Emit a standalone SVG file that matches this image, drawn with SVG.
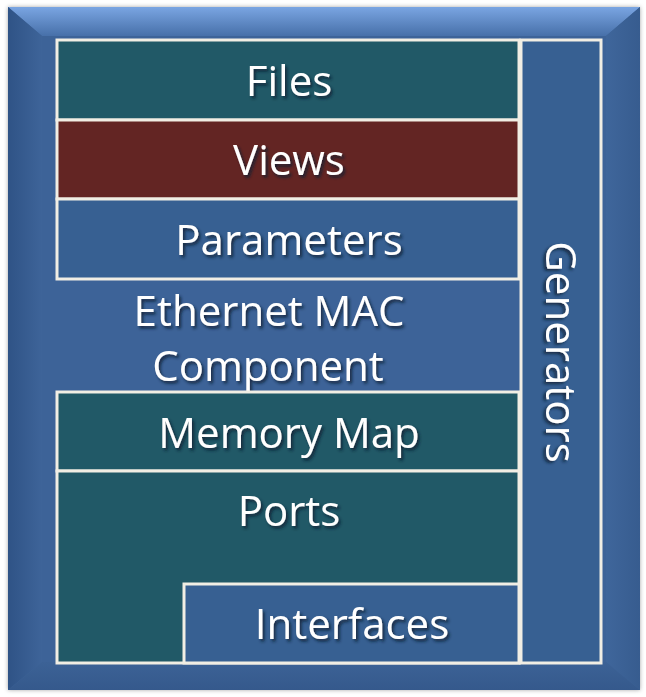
<svg xmlns="http://www.w3.org/2000/svg" width="646" height="697" viewBox="0 0 646 697">
  <defs>
    <linearGradient id="bevelTop" x1="0" y1="0" x2="0" y2="1">
      <stop offset="0" stop-color="#7aa5e2"/>
      <stop offset="1" stop-color="#4770a9"/>
    </linearGradient>
    <linearGradient id="bevelLeft" x1="0" y1="0" x2="1" y2="0">
      <stop offset="0" stop-color="#2f5386"/>
      <stop offset="1" stop-color="#3e6499"/>
    </linearGradient>
    <linearGradient id="bevelRight" x1="0" y1="0" x2="1" y2="0">
      <stop offset="0" stop-color="#3f669b"/>
      <stop offset="1" stop-color="#375c8f"/>
    </linearGradient>
    <linearGradient id="bevelBottom" x1="0" y1="0" x2="0" y2="1">
      <stop offset="0" stop-color="#3c6296"/>
      <stop offset="1" stop-color="#35598c"/>
    </linearGradient>
    <filter id="frameShadow" x="-5%" y="-5%" width="110%" height="110%">
      <feDropShadow dx="0" dy="0" stdDeviation="2" flood-color="#000" flood-opacity="0.35"/>
    </filter>
    <filter id="textShadow" x="-10%" y="-20%" width="120%" height="150%">
      <feDropShadow dx="2" dy="2.5" stdDeviation="1.5" flood-color="#0a1a30" flood-opacity="0.85"/>
    </filter>
  </defs>
  <style>
    .box { stroke: #f1eee4; stroke-width: 3; }
    .teal { fill: #215967; }
    .maroon { fill: #632523; }
    .blue { fill: #376092; }
    .label { font-family: "Open Sans", "Liberation Sans", sans-serif; font-size: 42px; fill: #ffffff; text-anchor: middle; filter: url(#textShadow); }
  </style>

  <rect width="646" height="697" fill="#ffffff"/>

  <!-- beveled outer frame -->
  <g id="frame">
    <rect x="8" y="7" width="632" height="683" fill="#3d6398" filter="url(#frameShadow)"/>
    <polygon points="8,7 640,7 606,36 42,36" fill="url(#bevelTop)"/>
    <polygon points="8,7 42,36 42,662 8,690" fill="url(#bevelLeft)"/>
    <polygon points="640,7 606,36 606,662 640,690" fill="url(#bevelRight)"/>
    <polygon points="8,690 42,662 606,662 640,690" fill="url(#bevelBottom)"/>
  </g>

  <!-- Generators column -->
  <g id="generators">
    <rect class="box blue" x="521" y="40" width="80" height="623"/>
    <text class="label" transform="translate(561,352) rotate(90)" y="15">Generators</text>
  </g>

  <g id="files">
    <rect class="box teal" x="57" y="40" width="462" height="80"/>
    <text class="label" x="289" y="96">Files</text>
  </g>

  <g id="views">
    <rect class="box maroon" x="57" y="120" width="462" height="79"/>
    <text class="label" x="289" y="175">Views</text>
  </g>

  <g id="parameters">
    <rect class="box blue" x="57" y="199" width="462" height="80"/>
    <text class="label" x="289" y="255">Parameters</text>
  </g>

  <g id="component">
    <text class="label" x="269" y="326">Ethernet MAC</text>
    <text class="label" x="268" y="381">Component</text>
  </g>

  <g id="memory-map">
    <rect class="box teal" x="57" y="392" width="462" height="79"/>
    <text class="label" x="289" y="448">Memory Map</text>
  </g>

  <g id="ports">
    <rect class="box teal" x="57" y="471" width="462" height="192"/>
    <text class="label" x="289" y="526">Ports</text>
  </g>

  <g id="interfaces">
    <rect class="box blue" x="184" y="584" width="335" height="79"/>
    <text class="label" x="352" y="639">Interfaces</text>
  </g>

  <!-- no connectors in this diagram -->
  <g id="connectors"/>
</svg>
